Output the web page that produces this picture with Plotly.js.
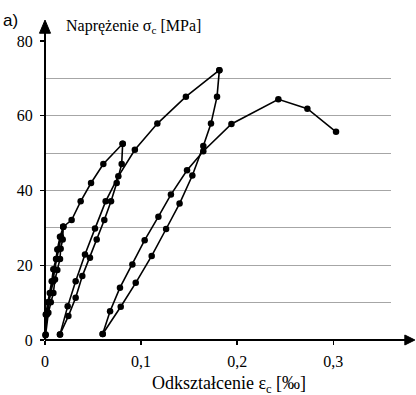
<!DOCTYPE html>
<html>
<head>
<meta charset="utf-8">
<script src="https://cdn.plot.ly/plotly-3.0.1.min.js"></script>
<style>html,body{margin:0;padding:0;background:#fff;}#chart{width:416px;height:395px;}</style>
</head>
<body>
<div id="chart"></div>
<script>
// Strain [‰] and stress [MPa], segment by segment
const smallLoopsStrain = [0.0005,0.0008,0.003,0.005,0.007,0.0087,0.0115,0.0128,0.0156,0.019,
  0.0184,0.0163,0.0156,0.0128,0.0104,0.0087,0.006,0.0035,0.0007,
  0.002,0.004,0.006,0.0085,0.010,0.0121,0.014,0.0165,0.019];
const smallLoopsStress = [1.3,6.8,10.1,12.6,15.7,18.9,21.7,24.2,27.6,30.3,
  26.9,24.4,21.7,18.7,16.2,12.6,10.1,7.3,1.5,
  6.8,10.1,12.6,15.7,18.9,21.7,24.3,27.6,30.3];

const envelopeStrain = [0.019,0.0277,0.0371,0.0479,0.0607,0.0808];
const envelopeStress = [30.3,32.1,37.1,42.0,47.1,52.5];

const unload1Strain = [0.0808,0.0798,0.0746,0.0687,0.0617,0.0538,0.0468,0.0388,0.0319,0.0243,0.0156];
const unload1Stress = [52.5,47.1,42.0,37.1,32.1,26.9,22.0,17.1,11.3,6.4,1.5];

const reload1Strain = [0.0156,0.0236,0.0319,0.0416,0.052,0.0631,0.0763,0.0935,0.1169,0.1466,0.1814];
const reload1Stress = [1.5,9.0,15.7,22.9,29.8,37.1,43.8,50.9,57.9,65.1,72.2];

const unload2Strain = [0.1814,0.179,0.1727,0.1647,0.1533,0.140,0.126,0.111,0.0944,0.0788,0.060];
const unload2Stress = [72.2,65.1,57.9,51.9,44.0,36.5,29.7,22.5,15.3,8.9,1.6];

const reload2Strain = [0.060,0.0677,0.078,0.0909,0.1037,0.118,0.131,0.1478,0.1647,0.194,0.2428,0.273,0.3028];
const reload2Stress = [1.6,7.7,14.0,20.2,26.7,33.0,38.9,45.4,50.5,57.8,64.4,61.9,55.7];

const xTickVals = [0,0.1,0.2,0.3];
const xTickText = ['0','0,1','0,2','0,3'];
const yTickVals = [0,20,40,60,80];
const yTickText = ['0','20','40','60','80'];

const segments = [
  [smallLoopsStrain, smallLoopsStress],
  [envelopeStrain, envelopeStress],
  [unload1Strain, unload1Stress],
  [reload1Strain, reload1Stress],
  [unload2Strain, unload2Stress],
  [reload2Strain, reload2Stress]
];

const traces = segments.map(s => ({
  x: s[0], y: s[1], type: 'scatter', mode: 'lines+markers',
  line: {color: '#000', width: 1.6},
  marker: {color: '#000', size: 6.5},
  cliponaxis: false, hoverinfo: 'skip', showlegend: false
}));

const serif = 'Liberation Serif, Times New Roman, serif';

const layout = {
  width: 416, height: 395,
  margin: {l: 45, r: 25, t: 41, b: 55, pad: 0},
  paper_bgcolor: '#fff', plot_bgcolor: '#fff',
  showlegend: false,
  xaxis: {
    range: [0, 0.36], showgrid: false, zeroline: false, showline: false,
    tickvals: xTickVals, ticktext: xTickText,
    ticks: 'outside', ticklen: 4, tickwidth: 1.5, tickcolor: '#000',
    ticklabelstandoff: 3,
    tickfont: {family: serif, size: 16, color: '#000'}
  },
  yaxis: {
    range: [0, 80], showgrid: true, gridcolor: '#a6a6a6', gridwidth: 1.2,
    zeroline: false, showline: false,
    tickvals: yTickVals, ticktext: yTickText,
    ticks: 'outside', ticklen: 4, tickwidth: 1.2, tickcolor: '#000',
    ticklabelstandoff: 4,
    minor: {dtick: 10, showgrid: true, gridcolor: '#a6a6a6', gridwidth: 1.2, ticks: ''},
    tickfont: {family: serif, size: 16, color: '#000'}
  },
  shapes: [
    {type: 'line', xref: 'paper', yref: 'paper', x0: 0, x1: 0, y0: 0, y1: 1.04, line: {color: '#000', width: 2}, layer: 'above'},
    {type: 'line', xref: 'paper', yref: 'paper', x0: 0, x1: 1.045, y0: 0, y1: 0, line: {color: '#000', width: 2}, layer: 'above'},
    {type: 'path', xref: 'paper', yref: 'paper', path: 'M 1.040 -0.0167 L 1.040 0.0167 L 1.069 0 Z', fillcolor: '#000', line: {color: '#000', width: 1}, layer: 'above'},
    {type: 'path', xref: 'paper', yref: 'paper', path: 'M -0.016 1.026 L 0.016 1.026 L 0 1.070 Z', fillcolor: '#000', line: {color: '#000', width: 1}, layer: 'above'}
  ],
  annotations: [
    {xref: 'paper', yref: 'paper', x: 0.055, y: 1.047, xanchor: 'left', yanchor: 'middle', showarrow: false,
     text: 'Naprężenie σ<sub>c</sub> [MPa]', font: {family: serif, size: 16, color: '#000'}},
    {xref: 'paper', yref: 'paper', x: -0.128, y: 1.068, xanchor: 'left', yanchor: 'middle', showarrow: false,
     text: 'a)', font: {family: 'Liberation Sans, Arial, sans-serif', size: 17, color: '#000'}},
    {xref: 'paper', yref: 'paper', x: 0.532, y: -0.150, xanchor: 'center', yanchor: 'middle', showarrow: false,
     text: 'Odkształcenie ε<sub>c</sub> [‰]', font: {family: serif, size: 18, color: '#000'}}
  ]
};

Plotly.newPlot('chart', traces, layout, {staticPlot: true, displayModeBar: false});
</script>
</body>
</html>
